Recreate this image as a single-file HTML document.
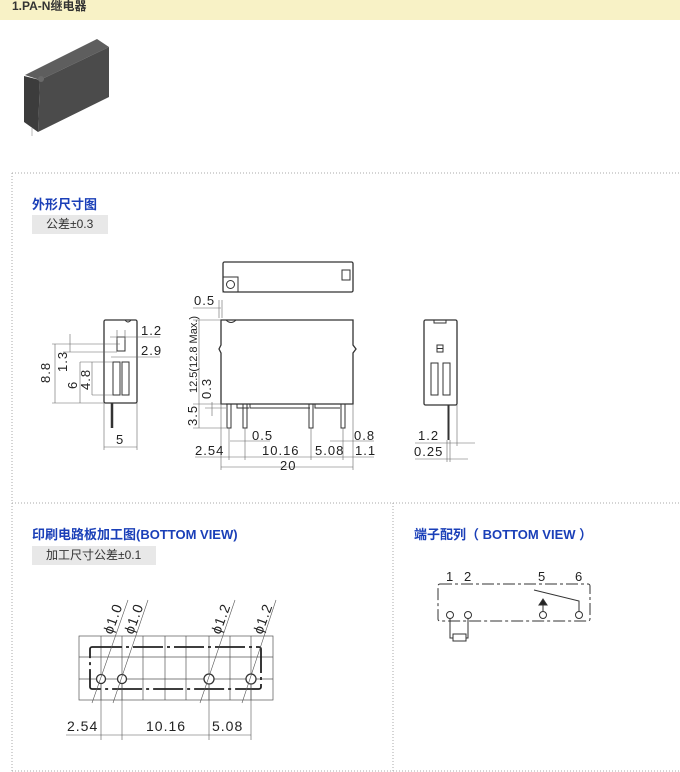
<!DOCTYPE html>
<html><head><meta charset="utf-8"><style>
body{margin:0;width:680px;height:772px;background:#fff;position:relative;overflow:hidden;font-family:"Liberation Sans","Noto Sans CJK SC",sans-serif}
.hdr{position:absolute;left:0;top:0;width:680px;height:20px;background:#f8f2c6;font-size:12px;font-weight:bold;color:#333;line-height:14px}
.hdr span{position:absolute;left:12px;top:-1px}
.t{position:absolute;color:#1a3fb8;font-weight:bold;font-size:13px}
.tag{position:absolute;background:#e8e8e8;color:#333;font-size:12px;height:19px;line-height:19px;padding-left:14px}
svg{position:absolute;left:0;top:0}
</style></head><body>
<div class="hdr"><span>1.PA-N继电器</span></div>
<div class="t" style="left:32px;top:194px">外形尺寸图</div>
<div class="tag" style="left:32px;top:215px;width:62px">公差±0.3</div>
<div class="t" style="left:32px;top:524px">印刷电路板加工图(BOTTOM VIEW)</div>
<div class="tag" style="left:32px;top:546px;width:110px">加工尺寸公差±0.1</div>
<div class="t" style="left:414px;top:524px">端子配列（ BOTTOM VIEW ）</div>
<svg width="680" height="772" viewBox="0 0 680 772" font-family="Liberation Sans, sans-serif" font-size="11" fill="none" stroke="#333">
<!-- photo -->
<polygon points="25,75 97,39 109,47 40,80" fill="#5e5e5e" stroke="none"/>
<polygon points="40,80 109,47 109,97 38,132" fill="#4b4b4b" stroke="none"/>
<polygon points="24,76 40,80 38,132 24,122" fill="#3c3c3c" stroke="none"/>
<circle cx="41" cy="79" r="3" fill="#6a6a6a" stroke="none"/>
<line x1="32" y1="128" x2="32" y2="136" stroke="#bbb"/>
<!-- dotted frames -->
<g stroke="#aaa" stroke-dasharray="1,2">
<line x1="12" y1="173" x2="680" y2="173"/><line x1="12" y1="173" x2="12" y2="772"/>
<line x1="12" y1="503" x2="680" y2="503"/><line x1="393" y1="503" x2="393" y2="772"/>
<line x1="12" y1="771" x2="680" y2="771"/>
</g>
<g stroke-width="1">
<!-- side view -->
<rect x="104" y="320" width="33" height="83" rx="1.5" stroke-width="1.3"/>
<path d="M125 320 q3 4 6 0"/>
<line x1="112" y1="403" x2="112" y2="428" stroke-width="2.5"/>
<rect x="117" y="337" width="8" height="14"/>
<rect x="113" y="362" width="7" height="33"/><rect x="122" y="362" width="7" height="33"/>
<g stroke="#666" stroke-width=".6">
<line x1="52" y1="344" x2="120" y2="344"/><line x1="52" y1="403" x2="104" y2="403"/><line x1="55" y1="344" x2="55" y2="403"/>
<line x1="70" y1="334" x2="70" y2="352"/><line x1="63" y1="352" x2="117" y2="352"/>
<line x1="80" y1="362" x2="113" y2="362"/><line x1="80" y1="362" x2="80" y2="403"/>
<line x1="92" y1="362" x2="92" y2="395"/><line x1="92" y1="395" x2="113" y2="395"/>
<line x1="110" y1="337" x2="160" y2="337"/><line x1="117" y1="330" x2="117" y2="340"/><line x1="125" y1="330" x2="125" y2="340"/>
<line x1="111" y1="357" x2="160" y2="357"/><line x1="104" y1="403" x2="104" y2="450"/><line x1="137" y1="403" x2="137" y2="450"/>
<line x1="104" y1="447" x2="137" y2="447"/>
</g>
<g fill="#222" stroke="none" font-size="13" letter-spacing="1">
<text x="141" y="335">1.2</text><text x="141" y="355">2.9</text><text x="116" y="444">5</text>
<text transform="translate(50,383) rotate(-90)">8.8</text><text transform="translate(67,372) rotate(-90)">1.3</text>
<text transform="translate(77,389) rotate(-90)">6</text><text transform="translate(90,390) rotate(-90)">4.8</text>
</g>
<!-- top view -->
<rect x="223" y="262" width="130" height="30" rx="1.5" stroke-width="1.3"/>
<rect x="223" y="277" width="15" height="15"/><circle cx="230.5" cy="284.5" r="4"/>
<rect x="342" y="270" width="8" height="10"/>
<!-- front view -->
<path d="M221 320 H353 V345 l3 4 -3 4 V404 H221 V353 l-2 -4 2 -4 Z" stroke-width="1.3"/>
<path d="M226 320 q5 5 10 0"/>
<path d="M237 404 v4 h12 M250 404 v4 h60 M315 404 v4 h25"/>
<rect x="227" y="404" width="4" height="24"/><rect x="243" y="404" width="4" height="24"/>
<rect x="309" y="404" width="4" height="24"/><rect x="341" y="404" width="4" height="24"/>
<g stroke="#666" stroke-width=".6">
<line x1="193" y1="308" x2="221" y2="308"/><line x1="219" y1="300" x2="219" y2="318"/><line x1="222" y1="300" x2="222" y2="318"/>
<line x1="193" y1="320" x2="221" y2="320"/><line x1="199" y1="320" x2="199" y2="428"/>
<line x1="193" y1="404" x2="226" y2="404"/><line x1="193" y1="428" x2="226" y2="428"/>
<line x1="212" y1="402" x2="212" y2="416"/><line x1="205" y1="408" x2="226" y2="408"/>
<line x1="221" y1="404" x2="221" y2="470"/><line x1="353" y1="404" x2="353" y2="470"/>
<line x1="229" y1="428" x2="229" y2="460"/><line x1="245" y1="428" x2="245" y2="460"/><line x1="311" y1="428" x2="311" y2="460"/><line x1="343" y1="428" x2="343" y2="460"/>
<line x1="195" y1="457" x2="374" y2="457"/><line x1="221" y1="467" x2="353" y2="467"/>
<line x1="230" y1="441" x2="270" y2="441"/><line x1="330" y1="441" x2="374" y2="441"/>
</g>
<g fill="#222" stroke="none" font-size="13" letter-spacing="1">
<text x="194" y="305">0.5</text>
<text transform="translate(197,393) rotate(-90)" font-size="11" letter-spacing="0">12.5(12.8 Max.)</text>
<text transform="translate(211,399) rotate(-90)">0.3</text>
<text transform="translate(197,426) rotate(-90)">3.5</text>
<text x="252" y="440">0.5</text><text x="354" y="440">0.8</text>
<text x="195" y="455">2.54</text><text x="262" y="455">10.16</text><text x="315" y="455">5.08</text><text x="355" y="455">1.1</text>
<text x="280" y="470">20</text>
</g>
<!-- right end view -->
<rect x="424" y="320" width="33" height="85" rx="1.5" stroke-width="1.3"/>
<path d="M434 320 v3 h12 v-3"/>
<rect x="437" y="345" width="6" height="7"/><line x1="437" y1="348.5" x2="443" y2="348.5"/>
<rect x="431" y="363" width="7" height="32"/><rect x="443" y="363" width="7" height="32"/>
<line x1="448.5" y1="405" x2="448.5" y2="440" stroke-width="2"/>
<g stroke="#666" stroke-width=".6">
<line x1="457" y1="405" x2="457" y2="446"/><line x1="447" y1="440" x2="447" y2="462"/><line x1="450" y1="440" x2="450" y2="462"/>
<line x1="415" y1="443" x2="475" y2="443"/><line x1="415" y1="459" x2="468" y2="459"/>
</g>
<g fill="#222" stroke="none" font-size="13" letter-spacing="1"><text x="418" y="440">1.2</text><text x="414" y="456">0.25</text></g>
<!-- PCB -->
<g stroke="#555" stroke-width=".7">
<rect x="79" y="636" width="194" height="64"/>
<line x1="101" y1="636" x2="101" y2="700"/><line x1="122" y1="636" x2="122" y2="700"/><line x1="143" y1="636" x2="143" y2="700"/>
<line x1="165" y1="636" x2="165" y2="700"/><line x1="186" y1="636" x2="186" y2="700"/><line x1="209" y1="636" x2="209" y2="700"/>
<line x1="230" y1="636" x2="230" y2="700"/><line x1="251" y1="636" x2="251" y2="700"/>
<line x1="79" y1="657" x2="273" y2="657"/><line x1="79" y1="679" x2="273" y2="679"/>
</g>
<rect x="90" y="647" width="171" height="42" rx="2" stroke-width="1.8" stroke="#222" stroke-dasharray="30,4,3,4"/>
<circle cx="101" cy="679" r="4.5" fill="#fff" stroke-width="1.3"/><circle cx="122" cy="679" r="4.5" fill="#fff" stroke-width="1.3"/>
<circle cx="209" cy="679" r="5" fill="#fff" stroke-width="1.3"/><circle cx="251" cy="679" r="5" fill="#fff" stroke-width="1.3"/>
<g stroke="#555" stroke-width=".6">
<line x1="92" y1="703" x2="128" y2="600"/><line x1="113" y1="703" x2="148" y2="600"/>
<line x1="200" y1="703" x2="235" y2="600"/><line x1="242" y1="703" x2="276" y2="600"/>
<line x1="101" y1="684" x2="101" y2="740"/><line x1="122" y1="684" x2="122" y2="740"/><line x1="209" y1="684" x2="209" y2="740"/><line x1="251" y1="684" x2="251" y2="740"/>
<line x1="66" y1="735" x2="251" y2="735"/>
</g>
<g fill="#222" stroke="none" font-size="14" letter-spacing="1">
<text transform="translate(112,635) rotate(-70)">ϕ1.0</text><text transform="translate(133,635) rotate(-70)">ϕ1.0</text>
<text transform="translate(220,635) rotate(-70)">ϕ1.2</text><text transform="translate(262,635) rotate(-70)">ϕ1.2</text>
<text x="67" y="731">2.54</text><text x="146" y="731">10.16</text><text x="212" y="731">5.08</text>
</g>
<!-- terminal arrangement -->
<rect x="438" y="584" width="152" height="37" rx="2" stroke-dasharray="12,3,3,3" stroke-width="1"/>
<circle cx="450" cy="615" r="3.5" fill="#fff"/><circle cx="468" cy="615" r="3.5" fill="#fff"/>
<circle cx="543" cy="615" r="3.5" fill="#fff"/><circle cx="579" cy="615" r="3.5" fill="#fff"/>
<path d="M450 618 V638 H453 M468 618 V638 H466"/><rect x="453" y="634" width="13" height="7"/>
<path d="M534 590 L579 601 V611"/>
<line x1="543" y1="605" x2="543" y2="611"/><polygon points="539,605 547,605 543,599" fill="#222"/>
<g fill="#222" stroke="none" font-size="13"><text x="446" y="581">1</text><text x="464" y="581">2</text><text x="538" y="581">5</text><text x="575" y="581">6</text></g>
</g>
</svg>
</body></html>
